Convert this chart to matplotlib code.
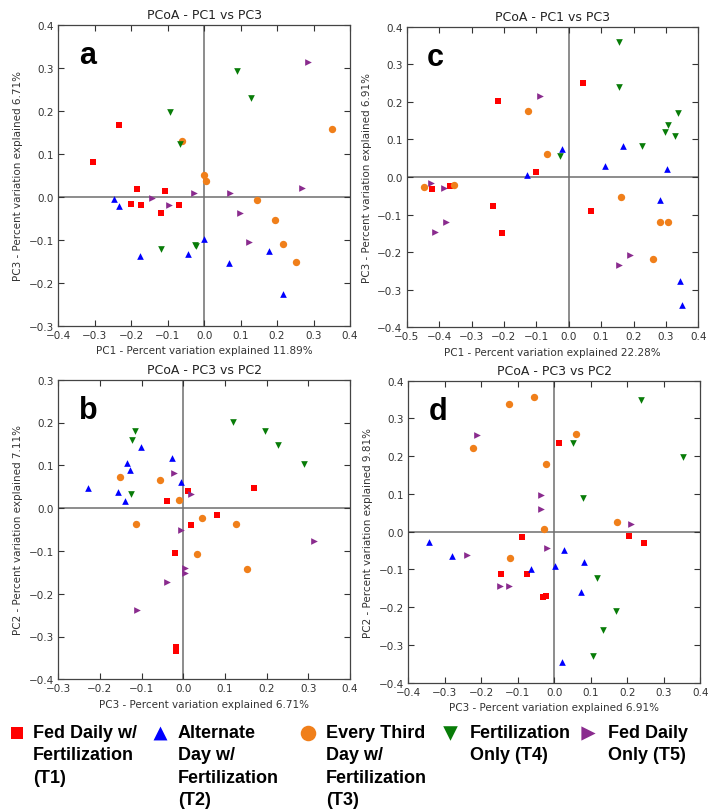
import matplotlib
matplotlib.use("Agg")
from matplotlib import pyplot as plt

# Group names, colours and markers
groups = ["T1", "T2", "T3", "T4", "T5"]
legend_labels = ["Fed Daily w/\nFertilization\n(T1)",
                 "Alternate\nDay w/\nFertilization\n(T2)",
                 "Every Third\nDay w/\nFertilization\n(T3)",
                 "Fertilization\nOnly (T4)",
                 "Fed Daily\nOnly (T5)"]
colors = ["#ff0000", "#0000ff", "#f07f1a", "#087c08", "#8a2b8e"]
markers = ["s", "^", "o", "v", ">"]

# Panel a: PC1 (x) vs PC3 (y)
a_t1 = [[-0.234, -0.305, -0.185, -0.200, -0.173, -0.106, -0.070, -0.119],
        [0.168, 0.080, 0.018, -0.016, -0.018, 0.013, -0.018, -0.038]]
a_t2 = [[-0.247, -0.234, -0.175, -0.043, 0.000, 0.069, 0.179, 0.215],
        [-0.004, -0.022, -0.137, -0.132, -0.098, -0.154, -0.127, -0.226]]
a_t3 = [[-0.060, 0.351, 0.000, 0.004, 0.146, 0.195, 0.215, 0.253],
        [0.129, 0.158, 0.051, 0.036, -0.008, -0.053, -0.110, -0.151]]
a_t4 = [[0.089, 0.129, -0.095, -0.065, -0.117, -0.022, -0.026],
        [0.292, 0.231, 0.197, 0.123, -0.121, -0.114, -0.112]]
a_t5 = [[0.285, 0.267, -0.142, -0.027, 0.070, -0.096, 0.098, 0.122],
        [0.315, 0.021, -0.003, 0.010, 0.010, -0.020, -0.037, -0.105]]

# Panel c: PC1 (x) vs PC3 (y)
c_t1 = [[0.044, -0.218, -0.101, -0.422, -0.365, -0.235, -0.206, 0.070],
        [0.250, 0.203, 0.013, -0.031, -0.023, -0.076, -0.149, -0.090]]
c_t2 = [[-0.020, -0.130, 0.169, 0.111, 0.304, 0.281, 0.343, 0.350],
        [0.075, 0.006, 0.082, 0.028, 0.020, -0.060, -0.276, -0.340]]
c_t3 = [[-0.126, -0.068, -0.447, -0.355, 0.162, 0.281, 0.307, 0.259],
        [0.176, 0.062, -0.027, -0.022, -0.052, -0.119, -0.119, -0.219]]
c_t4 = [[0.155, 0.155, 0.336, 0.307, 0.297, 0.329, 0.226, -0.027],
        [0.358, 0.240, 0.171, 0.138, 0.121, 0.110, 0.082, 0.055]]
c_t5 = [[-0.089, -0.425, -0.386, -0.379, -0.412, 0.154, 0.190],
        [0.216, -0.015, -0.029, -0.119, -0.146, -0.233, -0.208]]

# Panel b: PC3 (x) vs PC2 (y)
b_t1 = [[-0.040, 0.012, 0.169, 0.081, 0.018, -0.020, -0.017, -0.017],
        [0.016, 0.039, 0.048, -0.015, -0.039, -0.105, -0.325, -0.335]]
b_t2 = [[-0.229, -0.157, -0.139, -0.134, -0.129, -0.101, -0.026, -0.006],
        [0.047, 0.038, 0.016, 0.105, 0.088, 0.142, 0.118, 0.062]]
b_t3 = [[-0.153, -0.056, -0.011, -0.113, 0.046, 0.127, 0.032, 0.154],
        [0.072, 0.065, 0.018, -0.038, -0.024, -0.038, -0.107, -0.143]]
b_t4 = [[-0.117, -0.122, -0.126, 0.119, 0.195, 0.228, 0.290],
        [0.180, 0.159, 0.032, 0.202, 0.180, 0.148, 0.102]]
b_t5 = [[-0.023, 0.018, -0.005, 0.005, 0.005, -0.039, -0.110, 0.313],
        [0.082, 0.033, -0.050, -0.141, -0.151, -0.173, -0.239, -0.077]]

# Panel d: PC3 (x) vs PC2 (y)
d_t1 = [[0.012, -0.088, 0.205, 0.247, -0.146, -0.074, -0.031, -0.022],
        [0.236, -0.015, -0.012, -0.031, -0.112, -0.112, -0.172, -0.170]]
d_t2 = [[-0.343, -0.279, -0.064, 0.003, 0.026, 0.080, 0.074, 0.020],
        [-0.028, -0.064, -0.098, -0.090, -0.048, -0.080, -0.161, -0.345]]
d_t3 = [[-0.056, -0.124, -0.222, 0.059, -0.024, -0.029, -0.121, 0.172],
        [0.357, 0.337, 0.223, 0.259, 0.179, 0.006, -0.069, 0.026]]
d_t4 = [[0.238, 0.353, 0.051, 0.079, 0.117, 0.168, 0.134, 0.105],
        [0.350, 0.199, 0.235, 0.090, -0.122, -0.210, -0.260, -0.328]]
d_t5 = [[-0.213, -0.037, -0.037, -0.020, -0.238, -0.148, -0.125, 0.211],
        [0.256, 0.098, 0.059, -0.043, -0.061, -0.144, -0.144, 0.020]]

W, H = 708, 812
fig = plt.figure(figsize=(W / 100, H / 100), dpi=100)
fig.patch.set_facecolor("white")

# marker areas inside the panels and in the legend
plot_sizes = {"s": 20, "^": 23, "o": 28, "v": 23, ">": 23}
legend_sizes = {"s": 72, "^": 100, "o": 125, "v": 110, ">": 105}


def add_panel(px_left, px_top, px_right, px_bottom):
    # axes placed by pixel box (top-left origin)
    return fig.add_axes([px_left / W, 1 - px_bottom / H,
                         (px_right - px_left) / W, (px_bottom - px_top) / H])


def draw_panel(ax, data, letter, title, xlabel, ylabel, xlim, ylim):
    ax.axhline(0, color="#6e6e6e", lw=1.1, zorder=1)
    ax.axvline(0, color="#6e6e6e", lw=1.1, zorder=1)
    for (xs, ys), c, m in zip(data, colors, markers):
        ax.scatter(xs, ys, c=c, marker=m, s=plot_sizes[m], linewidths=0, zorder=3)
    ax.set_xlim(*xlim)
    ax.set_ylim(*ylim)
    ax.set_xticks([round(xlim[0] + 0.1 * i, 1) for i in range(int(round((xlim[1] - xlim[0]) / 0.1)) + 1)])
    ax.set_yticks([round(ylim[0] + 0.1 * i, 1) for i in range(int(round((ylim[1] - ylim[0]) / 0.1)) + 1)])
    ax.tick_params(direction="in", top=True, right=True, length=4, width=0.8,
                   labelsize=7.5, colors="#333333", pad=3)
    for sp in ax.spines.values():
        sp.set_color("#444444")
        sp.set_linewidth(0.9)
    ax.set_title(title, fontsize=9, color="#222222", pad=5)
    ax.set_xlabel(xlabel, fontsize=7.5, color="#333333", labelpad=4)
    ax.set_ylabel(ylabel, fontsize=7.5, color="#333333", labelpad=4)
    ax.text(0.07, 0.95, letter, transform=ax.transAxes, fontsize=22,
            fontweight="bold", family="Liberation Sans", va="top", ha="left")


ax_a = add_panel(58.3, 26.0, 350.0, 326.7)
ax_c = add_panel(406.7, 27.7, 698.3, 328.3)
ax_b = add_panel(58.3, 380.7, 350.0, 680.3)
ax_d = add_panel(408.3, 381.7, 700.3, 683.7)

draw_panel(ax_a, [a_t1, a_t2, a_t3, a_t4, a_t5], "a", "PCoA - PC1 vs PC3",
           "PC1 - Percent variation explained 11.89%",
           "PC3 - Percent variation explained 6.71%", (-0.4, 0.4), (-0.3, 0.4))
draw_panel(ax_c, [c_t1, c_t2, c_t3, c_t4, c_t5], "c", "PCoA - PC1 vs PC3",
           "PC1 - Percent variation explained 22.28%",
           "PC3 - Percent variation explained 6.91%", (-0.5, 0.4), (-0.4, 0.4))
draw_panel(ax_b, [b_t1, b_t2, b_t3, b_t4, b_t5], "b", "PCoA - PC3 vs PC2",
           "PC3 - Percent variation explained 6.71%",
           "PC2 - Percent variation explained 7.11%", (-0.3, 0.4), (-0.4, 0.3))
draw_panel(ax_d, [d_t1, d_t2, d_t3, d_t4, d_t5], "d", "PCoA - PC3 vs PC2",
           "PC3 - Percent variation explained 6.91%",
           "PC2 - Percent variation explained 9.81%", (-0.4, 0.4), (-0.4, 0.4))

# Legend drawn by hand so markers line up with the first text line
leg = fig.add_axes([0, 0, 1, 1], facecolor="none")
leg.set_xlim(0, W)
leg.set_ylim(H, 0)
leg.axis("off")
marker_x = [16.5, 160, 308, 450, 588]
text_x = [33, 178, 326, 470, 608]
for lab, c, m, mx, tx in zip(legend_labels, colors, markers, marker_x, text_x):
    leg.scatter([mx], [734], c=c, marker=m, s=legend_sizes[m], linewidths=0)
    leg.text(tx, 725, lab, fontsize=13, fontweight="bold",
             family="Liberation Sans", va="top", ha="left", linespacing=1.42)

fig.savefig("out.png", dpi=100)
